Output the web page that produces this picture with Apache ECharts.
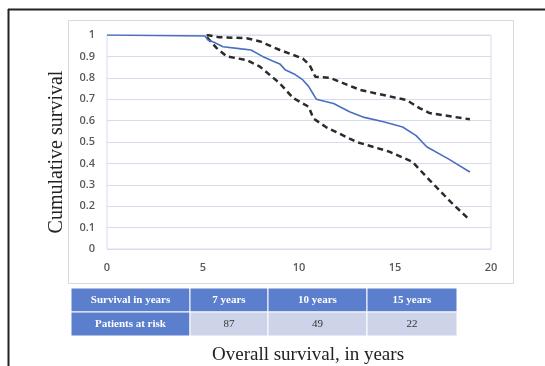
<!DOCTYPE html>
<html><head><meta charset="utf-8">
<script src="https://cdn.jsdelivr.net/npm/echarts@6/dist/echarts.min.js"></script>
<style>html,body{margin:0;padding:0;background:#fff}#c{width:545px;height:366px}</style>
</head><body><div id="c"></div>
<script>
// Data
const survival = [[0,1],[5.1,0.995],[5.26,0.977],[5.6,0.965],[6.04,0.945],[7.0,0.935],[7.5,0.93],[8.1,0.90],[8.6,0.88],[9.0,0.865],[9.3,0.836],[9.8,0.815],[10.2,0.79],[10.5,0.76],[10.7,0.73],[10.9,0.70],[11.8,0.68],[12.66,0.64],[13.4,0.615],[14.4,0.595],[15.4,0.57],[16.1,0.53],[16.65,0.478],[17.8,0.42],[18.9,0.36]];
const upperCI = [[5.19,1.0],[5.8,0.99],[7.27,0.985],[7.97,0.97],[9.0,0.93],[10.2,0.89],[10.55,0.86],[10.85,0.805],[11.6,0.80],[13.2,0.743],[15.6,0.696],[16.3,0.657],[16.8,0.635],[18.9,0.606]];
const lowerCI = [[5.2,0.99],[5.35,0.975],[5.7,0.94],[6.23,0.90],[7.27,0.883],[7.97,0.852],[9.0,0.774],[9.7,0.705],[10.2,0.68],[10.5,0.665],[10.75,0.61],[11.4,0.57],[13.0,0.50],[14.7,0.455],[15.9,0.408],[16.8,0.322],[17.9,0.22],[18.9,0.135]];
const tableHeader = ['Survival in years','7 years','10 years','15 years'];
const tableRow = ['Patients at risk','87','49','22'];
const yTitle = 'Cumulative survival';
const xTitle = 'Overall survival, in years';

const chart = echarts.init(document.getElementById('c'), null, {renderer:'canvas'});
const colX = [71,190,268,367,457];
const rowY = [288,312,336];
const blue = '#5b7fcd', light = '#cdd4ea';
const graphics = [
  {type:'rect', shape:{x:68.5,y:20.5,width:445,height:263}, style:{fill:'none',stroke:'#d9d9d9',lineWidth:1}, z:-1},
  {type:'line', shape:{x1:8.5,y1:9,x2:8.5,y2:366}, style:{stroke:'#222',lineWidth:2}},
  {type:'line', shape:{x1:8,y1:9.5,x2:545,y2:9.5}, style:{stroke:'#222',lineWidth:2}},
  {type:'text', x:57, y:152, rotation:Math.PI/2, style:{text:yTitle, fill:'#222', font:'20px "Liberation Serif"', align:'center', verticalAlign:'middle'}}
];
for (let r=0;r<2;r++){
  const row = r===0?tableHeader:tableRow;
  for (let c=0;c<4;c++){
    const isBlue = r===0 || c===0;
    graphics.push({type:'rect', shape:{x:colX[c],y:rowY[r],width:colX[c+1]-colX[c],height:rowY[r+1]-rowY[r]},
      style:{fill:isBlue?blue:light, stroke:'#fff', lineWidth:1}});
    graphics.push({type:'text', x:(colX[c]+colX[c+1])/2, y:(rowY[r]+rowY[r+1])/2,
      style:{text:row[c], fill:isBlue?'#fff':'#333', font:(isBlue?'bold ':'')+'11px "Liberation Serif"', align:'center', verticalAlign:'middle'}});
  }
}
graphics.push({type:'text', x:308, y:355, style:{text:xTitle, fill:'#222', font:'19px "Liberation Serif"', align:'center', verticalAlign:'middle'}});

const axisLabel = {color:'#595959', fontFamily:'Open Sans', fontWeight:600, fontSize:11};
chart.setOption({
  animation:false,
  grid:{left:107,right:54,top:35,bottom:117,show:true,borderColor:'#d6dcec',borderWidth:1,backgroundColor:'transparent'},
  xAxis:{type:'value',min:0,max:20,interval:5,axisLine:{show:false},axisTick:{show:false},splitLine:{show:false},
    axisLabel:Object.assign({margin:13},axisLabel)},
  yAxis:{type:'value',min:0,max:1,interval:0.1,
    axisLine:{show:false},axisTick:{show:false},
    splitLine:{lineStyle:{color:'#d6dcec',width:1}},
    axisLabel:Object.assign({margin:12,formatter:v=>String(Math.round(v*10)/10)},axisLabel)},
  series:[
    {type:'line',data:survival,showSymbol:false,lineStyle:{color:'#4a6fc0',width:1.6},z:3},
    {type:'line',data:upperCI,showSymbol:false,lineStyle:{color:'#2b2b2b',width:2.5,type:[6,4]},z:2},
    {type:'line',data:lowerCI,showSymbol:false,lineStyle:{color:'#2b2b2b',width:2.5,type:[6,4]},z:2}
  ],
  graphic:graphics
});
</script></body></html>
